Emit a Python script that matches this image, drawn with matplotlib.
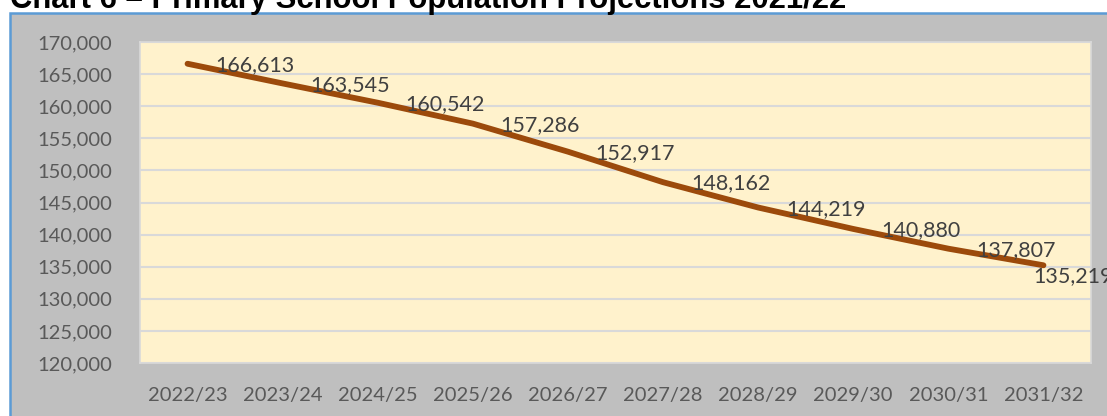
import matplotlib
matplotlib.use("Agg")
import matplotlib.pyplot as plt
from matplotlib.patches import Rectangle
from matplotlib.ticker import FuncFormatter

# data
years = ["2022/23", "2023/24", "2024/25", "2025/26", "2026/27",
         "2027/28", "2028/29", "2029/30", "2030/31", "2031/32"]
pupils = [166613, 163545, 160542, 157286, 152917,
          148162, 144219, 140880, 137807, 135219]
y_ticks = list(range(120000, 170001, 5000))

W, H = 1107, 416
fig = plt.figure(figsize=(W / 100, H / 100), dpi=100)
fig.patch.set_facecolor("white")

# chart area (grey box with blue border)
fig.patches.append(Rectangle((10 / W, -0.05), 1.1, 1 - 13 / H + 0.05,
                             transform=fig.transFigure, facecolor="#BFBFBF",
                             edgecolor="#5B9BD5", linewidth=1.8, zorder=-5))

# title, partly cut off at the top
fig.text(10 / W, 1 - 8 / H, "Chart 6 \u2013 Primary School Population Projections 2021/22",
         fontsize=22.3, fontweight="bold", family="Liberation Sans",
         color="black", va="baseline", ha="left")

left, right, top, bottom = 140, 1091, 42, 363
ax = fig.add_axes([left / W, 1 - bottom / H, (right - left) / W, (bottom - top) / H])
ax.set_zorder(2)
ax.set_facecolor("#FFF2CC")
x = list(range(len(years)))
ax.plot(x, pupils, color="#9C4A0B", linewidth=4.2, solid_capstyle="round",
        solid_joinstyle="round", zorder=3)

for i, (xi, v) in enumerate(zip(x, pupils)):
    # last label is pushed down-left by the chart edge in the original
    off = (-7, -8) if i == len(x) - 1 else (20, -1)
    ax.annotate(f"{v:,}", (xi, v), xytext=off, textcoords="offset points",
                ha="left", va="center", fontsize=15.5, family="Lato",
                color="#404040", annotation_clip=False, zorder=4)

ax.set_xlim(-0.5, len(years) - 0.5)
ax.set_ylim(120000, 170000)
ax.set_yticks(y_ticks)
ax.yaxis.set_major_formatter(FuncFormatter(lambda v, p: f"{int(v):,}"))
ax.set_xticks(x)
ax.set_xticklabels(years)
ax.grid(axis="y", color="#D9D9D9", linewidth=1.5, zorder=1)
ax.set_axisbelow(True)
for s in ax.spines.values():
    s.set_color("#D9D9D9")
    s.set_linewidth(1.2)
ax.tick_params(length=0, labelsize=14.5, colors="#595959")
ax.tick_params(axis="y", pad=20)
ax.tick_params(axis="x", pad=17)
for lab in ax.get_xticklabels() + ax.get_yticklabels():
    lab.set_family("Lato")

fig.savefig("out.png", dpi=100, facecolor=fig.get_facecolor())
